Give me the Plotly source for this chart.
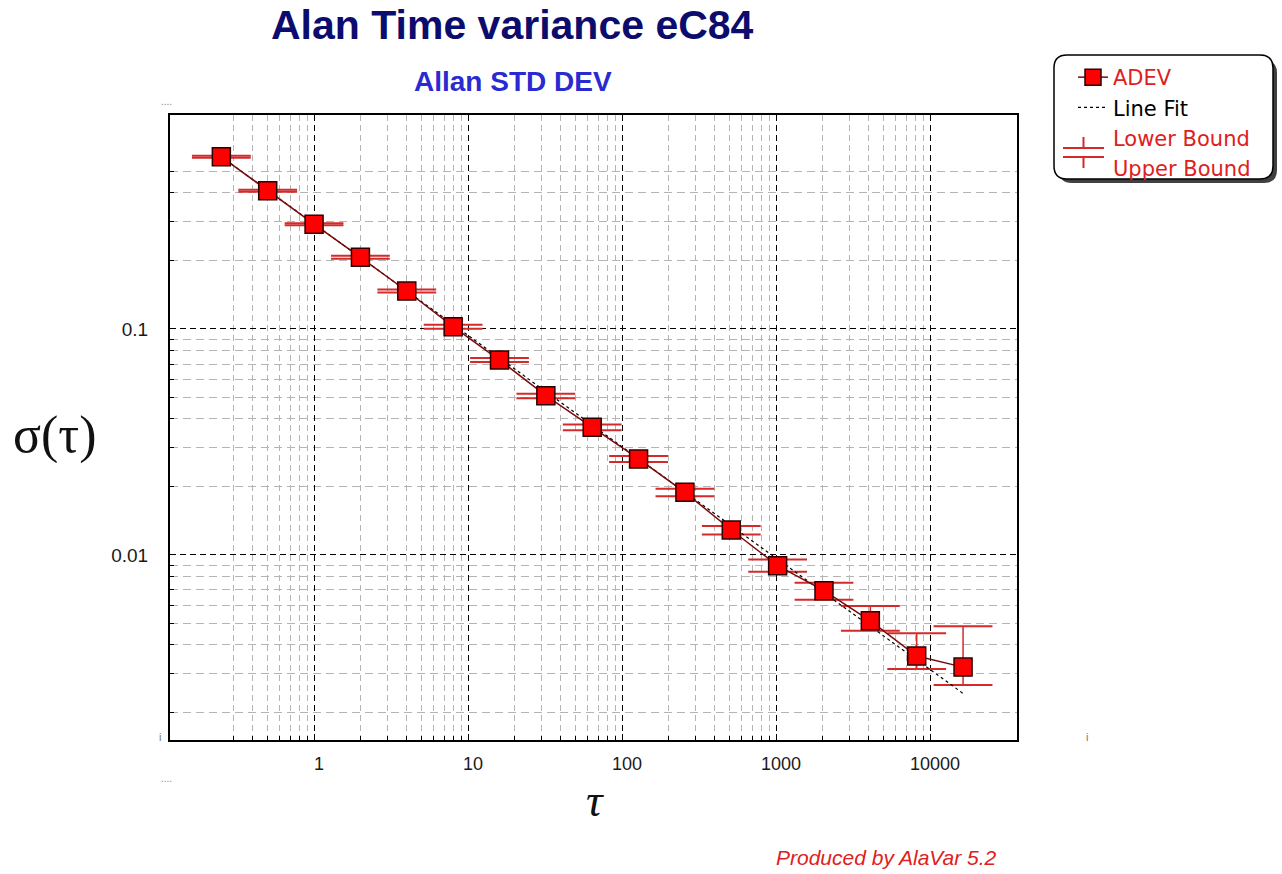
import numpy as np
import plotly.graph_objects as go

# ---------------- data ----------------
tau = [0.25, 0.5, 1, 2, 4, 8, 16, 32, 64, 128, 256, 512, 1024, 2048, 4096, 8192, 16384]
adev = [0.578, 0.409, 0.291, 0.2076, 0.1473, 0.1024, 0.0729, 0.0507, 0.0367, 0.0266,
        0.01894, 0.01290, 0.00897, 0.00695, 0.00511, 0.00357, 0.00319]
upper_bound = [0.584, 0.413, 0.294, 0.2108, 0.1496, 0.1045, 0.0744, 0.0517, 0.0378, 0.0274,
               0.01963, 0.01344, 0.00954, 0.00754, 0.00595, 0.00451, 0.00484]
lower_bound = [0.572, 0.405, 0.288, 0.2044, 0.1451, 0.1003, 0.0714, 0.0494, 0.0356, 0.0258,
               0.01820, 0.01232, 0.00844, 0.00634, 0.00462, 0.00313, 0.00266]
fit_tau = [0.25, 16384]
fit_sigma = [0.578, 0.00244]

x_major = [1, 10, 100, 1000, 10000]
x_major_labels = ["1", "10", "100", "1000", "10000"]
x_minor = [m * d for d in [0.1, 1, 10, 100, 1000] for m in range(2, 10) if m * d >= 0.3]
y_major = [0.01, 0.1]
y_major_labels = ["0.01", "0.1"]
y_minor = [m * d for d in [0.001, 0.01, 0.1] for m in range(2, 10) if m * d <= 0.6]

# ---------------- geometry helpers (layout only) ----------------
W, H = 1282, 874
L, R, T, B = 170, 1017, 115, 740   # plot area in pixels


def px(x):
    return (x - L) / (R - L)


def py(y):
    return (B - y) / (B - T)


RED = "#d42a2a"
SANS = "Arial, Liberation Sans, sans-serif"
SERIF = "Times New Roman, Liberation Serif, serif"

fig = go.Figure()

err_plus = [u - v for u, v in zip(upper_bound, adev)]
err_minus = [v - l for v, l in zip(adev, lower_bound)]

fig.add_trace(go.Scatter(
    x=tau, y=lower_bound, mode="markers", name="Lower Bound", showlegend=False,
    marker=dict(symbol="line-ew", size=42, line=dict(width=2, color=RED)),
    hoverinfo="skip"))
fig.add_trace(go.Scatter(
    x=tau, y=upper_bound, mode="markers", name="Upper Bound", showlegend=False,
    marker=dict(symbol="line-ew", size=42, line=dict(width=2, color=RED)),
    hoverinfo="skip"))
fig.add_trace(go.Scatter(
    x=fit_tau, y=fit_sigma, mode="lines", name='<span style="color:#000000">Line Fit</span>',
    line=dict(color="black", width=1.2, dash="dot"), legendrank=2))
fig.add_trace(go.Scatter(
    x=tau, y=adev, mode="lines+markers", name='<span style="color:#e02020">ADEV</span>',
    line=dict(color="#7a0a0a", width=1.5),
    marker=dict(symbol="square", size=18, color="#ff0000", line=dict(color="#2a0000", width=1.5)),
    error_y=dict(type="data", symmetric=False, array=err_plus, arrayminus=err_minus,
                 width=0, thickness=1.5, color=RED),
    legendrank=1))
# legend entries for the bound caps (glyphs drawn in the legend box below)
fig.add_trace(go.Scatter(
    x=[None], y=[None], mode="markers", name='<span style="color:#e02020">Lower Bound</span>',
    marker=dict(symbol="line-ew", size=1, opacity=0), legendrank=3, hoverinfo="skip"))
fig.add_trace(go.Scatter(
    x=[None], y=[None], mode="markers", name='<span style="color:#e02020">Upper Bound</span>',
    marker=dict(symbol="line-ew", size=1, opacity=0), legendrank=4, hoverinfo="skip"))

axis_common = dict(
    type="log", showline=True, linecolor="black", linewidth=2, mirror=True,
    showgrid=True, gridcolor="black", gridwidth=1, griddash="6px,4px",
    ticks="inside", ticklen=6, tickcolor="black", tickwidth=1, zeroline=False,
    tickfont=dict(family=SANS, size=18, color="#1a1a1a"),
)

fig.update_xaxes(
    **axis_common,
    range=[np.log10(0.116), np.log10(36700)],
    tickmode="array", tickvals=x_major, ticktext=x_major_labels,
    ticklabelshift=5, ticklabelstandoff=6,
    minor=dict(tickmode="array", tickvals=x_minor, showgrid=True, gridcolor="#b4b4b4",
               gridwidth=1, griddash="6px,4px", ticks="inside", ticklen=4, tickcolor="black"),
)
fig.update_yaxes(
    **axis_common,
    range=[np.log10(0.001518), np.log10(0.885)],
    tickmode="array", tickvals=y_major, ticktext=y_major_labels,
    ticklabelstandoff=16,
    tickfont_size=19,
    minor=dict(tickmode="array", tickvals=y_minor, showgrid=True, gridcolor="#b4b4b4",
               gridwidth=1, griddash="8px,5px", ticks="inside", ticklen=4, tickcolor="black"),
)


# legend box (rounded, with shadow)
def rounded(x0, y0, x1, y1, r):
    rx, ry = r / (R - L), r / (B - T)
    X0, X1 = px(x0), px(x1)
    Yt, Yb = py(y0), py(y1)
    return (f"M {X0+rx},{Yt} L {X1-rx},{Yt} Q {X1},{Yt} {X1},{Yt-ry} "
            f"L {X1},{Yb+ry} Q {X1},{Yb} {X1-rx},{Yb} L {X0+rx},{Yb} "
            f"Q {X0},{Yb} {X0},{Yb+ry} L {X0},{Yt-ry} Q {X0},{Yt} {X0+rx},{Yt} Z")


def seg(x0, y0, x1, y1):
    return dict(type="line", xref="paper", yref="paper", x0=px(x0), y0=py(y0),
                x1=px(x1), y1=py(y1), line=dict(color=RED, width=2), layer="above")


shapes = [
    dict(type="path", xref="paper", yref="paper", path=rounded(1059, 60, 1277, 183, 13),
         fillcolor="#404040", line=dict(width=0), layer="above"),
    dict(type="path", xref="paper", yref="paper", path=rounded(1054, 55, 1273, 179, 13),
         fillcolor="white", line=dict(color="black", width=1.5), layer="above"),
    # legend glyphs: lower bound and upper bound caps
    seg(1063, 148, 1104, 148), seg(1083.5, 137, 1083.5, 148),
    seg(1063, 157, 1104, 157), seg(1083.5, 157, 1083.5, 168),
]


def note(text, x, y, size, color, family=SANS):
    return dict(text=text, x=px(x), y=py(y), xref="paper", yref="paper", showarrow=False,
                font=dict(family=family, size=size, color=color),
                xanchor="center", yanchor="middle")


annotations = [
    note("<b>Alan Time variance eC84</b>", 512, 25, 41, "#0c0c6e"),
    note("<b>Allan STD DEV</b>", 513, 81, 28, "#2a2ad2"),
    note("σ(τ)", 55, 435, 52, "#111111", SERIF),
    note("<i>τ</i>", 595, 800, 46, "#111111", SERIF),
    note("<i>Produced by AlaVar 5.2</i>", 886, 857, 21, "#e02020"),
    note("....", 166, 101, 10, "#888888"),
    note("....", 166, 778, 10, "#888888"),
    note("i", 160, 737, 11, "#777777"),
    note("i", 1087, 737, 11, "#777777"),
]

fig.update_layout(
    width=W, height=H,
    margin=dict(l=L, r=W - R, t=T, b=H - B, autoexpand=False),
    paper_bgcolor="white", plot_bgcolor="white",
    showlegend=True,
    legend=dict(x=px(1073), y=py(57), xanchor="left", yanchor="top",
                bgcolor="rgba(0,0,0,0)", borderwidth=0, itemsizing="trace",
                font=dict(family="DejaVu Sans, sans-serif", size=21), tracegroupgap=0),
    shapes=shapes, annotations=annotations,
)

# the page body has a default 8px margin; remove it so the figure fills the window
fig.write_html("out.html", config={"displayModeBar": False},
               post_script="document.body.style.margin='0px';")
